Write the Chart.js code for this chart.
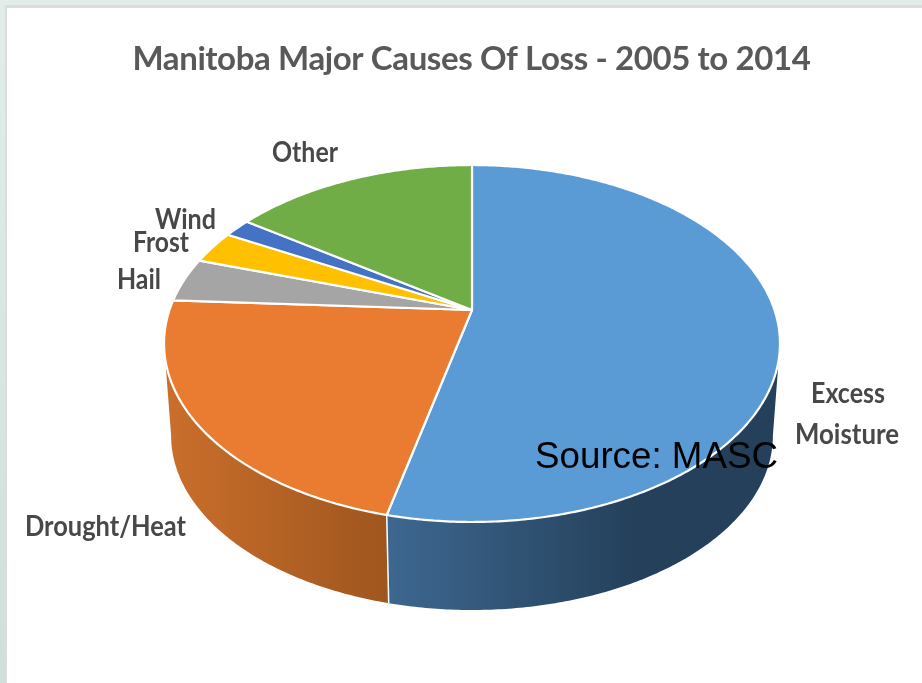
<!DOCTYPE html>
<html><head><meta charset="utf-8">
<script src="https://cdn.jsdelivr.net/npm/chart.js@4"></script>
<style>
html,body{margin:0;padding:0;width:922px;height:683px;overflow:hidden;background:linear-gradient(#e2edea,#cde0dc);}
#sheet{position:absolute;left:5px;top:5px;width:915px;height:676px;background:#fff;border-left:2px solid #dcdcdc;border-top:3px solid #dcdcdc;}
canvas{position:absolute;left:0;top:0;}
</style></head><body>
<div id="sheet"></div>
<canvas id="c" width="922" height="683"></canvas>
<script>
const titleText = 'Manitoba Major Causes Of Loss - 2005 to 2014';
const categories = ['Excess Moisture','Drought/Heat','Hail','Frost','Wind','Other'];
const lossShare = [53.7,22.2,4,3,1.7,15.4];
const sliceColors = ['#5b9bd5','#ea7c31','#a5a5a5','#ffc000','#4472c4','#70ad47'];
const wallLeftColors = ['#3d6790','#c96e2b',null,null,null,null];
const wallRightColors = ['#24405a','#9f561e',null,null,null,null];
const sourceNote = 'Source: MASC';

// perspective of the tilted disc
const apexX=472, apexY=310, radX=302.5, radY=172.2, persp=0.1877;
const depthScale=0.977, depthShift=100;
const top3d=(a)=>{const u=Math.cos(a),v=Math.sin(a),w=1-persp*v;return [apexX+radX*u/w,apexY+radY*v/w];};
const low3d=(a)=>{const p=top3d(a);return [apexX+(p[0]-apexX)*depthScale,p[1]*depthScale+depthShift];};
// the wall is visible between the disc's rightmost and leftmost rim points
const rimRight=Math.asin(persp), rimLeft=Math.PI-rimRight;

// label layout: name -> [left, right, vertical centre]
const labelBoxes = [
 ['Other',272,338,153],['Wind',155,216,220],['Frost',133,189,243],['Hail',117,161,280],
 ['Drought/Heat',25,186,527],['Excess',811,885,394],['Moisture',795,899,435]
];

function fitText(ctx,t,l,r,y){
  const w=ctx.measureText(t).width;
  ctx.save();ctx.translate(l,y);ctx.scale((r-l)/w,1);ctx.textAlign='left';ctx.textBaseline='middle';ctx.fillText(t,0,0);ctx.restore();
}
const pie3d={
 id:'pie3d',
 beforeDraw(chart){ chart.ctx.letterSpacing='-0.39px'; },
 beforeDatasetsDraw(chart){
  const ctx=chart.ctx, arcs=chart.getDatasetMeta(0).data, STEP=0.01;
  ctx.letterSpacing='0px';
  // walls
  [1,0].forEach(i=>{
    const el=arcs[i]; if(!wallLeftColors[i])return;
    const from=Math.max(el.startAngle,rimRight), to=Math.min(el.endAngle,rimLeft);
    const pts=[];for(let a=from;a<to;a+=STEP)pts.push(a);pts.push(to);
    const tops=pts.map(top3d), lows=pts.map(low3d);
    const xs=lows.map(p=>p[0]);
    const x0=Math.min(...xs), x1=Math.max(...xs);
    const g=ctx.createLinearGradient(x0,0,i===0?x0+250:x1,0);
    g.addColorStop(0,wallLeftColors[i]);g.addColorStop(1,wallRightColors[i]);
    ctx.beginPath();
    tops.forEach((p,k)=>k?ctx.lineTo(p[0],p[1]):ctx.moveTo(p[0],p[1]));
    lows.slice().reverse().forEach(p=>ctx.lineTo(p[0],p[1]));
    ctx.closePath();ctx.fillStyle=g;ctx.fill();
  });
  // separator on the wall
  const sepA=arcs[0].endAngle, s1=top3d(sepA), s2=low3d(sepA);
  ctx.beginPath();ctx.moveTo(s1[0],s1[1]);ctx.lineTo(s2[0],s2[1]);ctx.strokeStyle='#fff';ctx.lineWidth=1.5;ctx.stroke();
  // top face
  arcs.forEach((el)=>{
    ctx.beginPath();ctx.moveTo(apexX,apexY);
    for(let a=el.startAngle;a<el.endAngle;a+=STEP){const p=top3d(a);ctx.lineTo(p[0],p[1]);}
    const e=top3d(el.endAngle);ctx.lineTo(e[0],e[1]);ctx.closePath();
    ctx.fillStyle=el.options.backgroundColor;ctx.fill();
    ctx.strokeStyle=el.options.borderColor;ctx.lineWidth=el.options.borderWidth;ctx.lineJoin='round';ctx.stroke();
  });
  return false;
 },
 afterDraw(chart){
  const ctx=chart.ctx;ctx.save();
  ctx.fillStyle='#484848';ctx.font='bold 29px Lato';
  labelBoxes.forEach(b=>fitText(ctx,b[0],b[1],b[2],b[3]));
  ctx.fillStyle='#000';ctx.font='36px "Liberation Sans"';
  fitText(ctx,sourceNote,535,778,458);
  ctx.restore();
 }
};
new Chart(document.getElementById('c'),{
 type:'pie',
 data:{labels:categories,datasets:[{data:lossShare,backgroundColor:sliceColors,borderColor:'#ffffff',borderWidth:2.2}]},
 options:{
  responsive:false,animation:false,events:[],
  layout:{padding:{left:21}},
  plugins:{legend:{display:false},tooltip:{enabled:false},
   title:{display:true,text:titleText,color:'#595959',font:{family:'Lato',size:33,weight:'bold'},padding:{top:40,bottom:20}}}
 },
 plugins:[pie3d]
});
</script>
</body></html>
